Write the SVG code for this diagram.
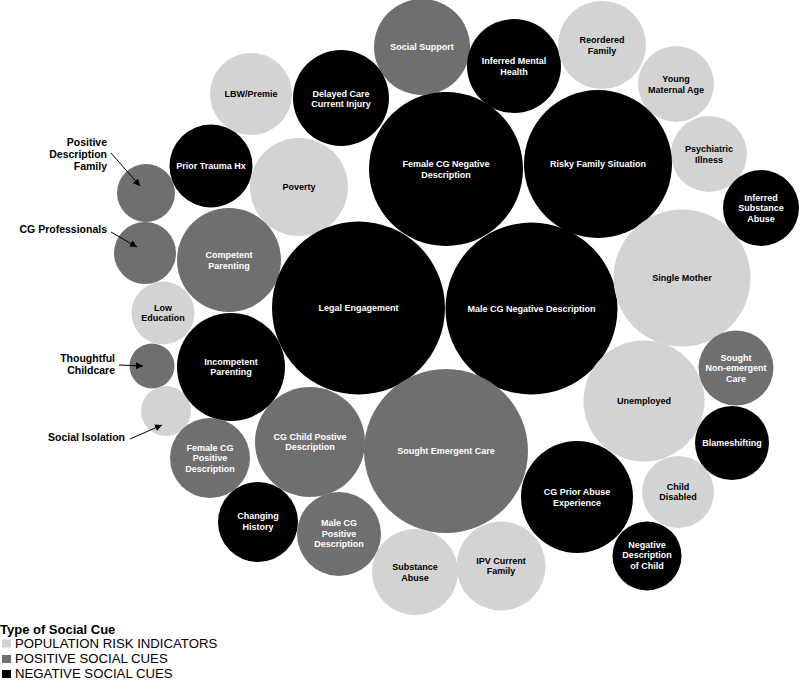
<svg xmlns="http://www.w3.org/2000/svg" width="800" height="680" viewBox="0 0 800 680">
<defs>
<style>
.pop{fill:#d3d3d3}
.pos{fill:#6f6f6f}
.neg{fill:#000000}
text{font-family:"Liberation Sans",Arial,sans-serif}
.lb{font-size:9px;font-weight:bold;text-anchor:middle}
.dk{fill:#000}
.wt{fill:#fff}
.side{font-size:10.5px;font-weight:bold;fill:#000;text-anchor:end}
.leg{font-size:13.2px;fill:#000}
.conn{stroke:#000;stroke-width:1;fill:none;marker-end:url(#ah)}
</style>
<marker id="ah" viewBox="0 0 10 10" refX="10" refY="5" markerWidth="7" markerHeight="7" markerUnits="userSpaceOnUse" orient="auto">
<path d="M0,0 L10,5 L0,10 z" fill="#000"/>
</marker>
</defs>
<rect width="800" height="680" fill="#fff"/>

<g id="social-support"><circle class="pos" cx="422" cy="47" r="48"/><text class="lb wt" x="422" y="50">Social Support</text></g>
<g id="inferred-mental-health"><circle class="neg" cx="514" cy="66" r="47"/><text class="lb wt" x="514" y="64">Inferred Mental</text><text class="lb wt" x="514" y="74.5">Health</text></g>
<g id="reordered-family"><circle class="pop" cx="602" cy="45" r="44"/><text class="lb dk" x="602" y="43">Reordered</text><text class="lb dk" x="602" y="53.5">Family</text></g>
<g id="young-maternal-age"><circle class="pop" cx="676" cy="84" r="38"/><text class="lb dk" x="676" y="82">Young</text><text class="lb dk" x="676" y="92.5">Maternal Age</text></g>
<g id="psychiatric-illness"><circle class="pop" cx="709" cy="154" r="38"/><text class="lb dk" x="709" y="152">Psychiatric</text><text class="lb dk" x="709" y="162.5">Illness</text></g>
<g id="inferred-substance-abuse"><circle class="neg" cx="761" cy="208" r="38"/><text class="lb wt" x="761" y="200.5">Inferred</text><text class="lb wt" x="761" y="211">Substance</text><text class="lb wt" x="761" y="221.5">Abuse</text></g>
<g id="risky-family-situation"><circle class="neg" cx="598" cy="164" r="74"/><text class="lb wt" x="598" y="167">Risky Family Situation</text></g>
<g id="female-cg-negative-description"><circle class="neg" cx="446" cy="169" r="77"/><text class="lb wt" x="446" y="167">Female CG Negative</text><text class="lb wt" x="446" y="177.5">Description</text></g>
<g id="delayed-care-current-injury"><circle class="neg" cx="341" cy="98" r="48"/><text class="lb wt" x="341" y="96.5">Delayed Care</text><text class="lb wt" x="341" y="107">Current Injury</text></g>
<g id="lbw-premie"><circle class="pop" cx="251" cy="94" r="41"/><text class="lb dk" x="251" y="96.5">LBW/Premie</text></g>
<g id="prior-trauma-hx"><circle class="neg" cx="211" cy="166" r="41.5"/><text class="lb wt" x="211" y="169.2">Prior Trauma Hx</text></g>
<g id="poverty"><circle class="pop" cx="299" cy="187" r="49"/><text class="lb dk" x="299" y="190.2">Poverty</text></g>
<g id="positive-description-family"><circle class="pos" cx="146" cy="193" r="29"/></g>
<g id="cg-professionals"><circle class="pos" cx="145" cy="253" r="31"/></g>
<g id="low-education"><circle class="pop" cx="163" cy="313" r="31.5"/><text class="lb dk" x="163" y="310.5">Low</text><text class="lb dk" x="163" y="321">Education</text></g>
<g id="thoughtful-childcare"><circle class="pos" cx="152" cy="366" r="22.5"/></g>
<g id="social-isolation"><circle class="pop" cx="166" cy="411" r="25"/></g>
<g id="competent-parenting"><circle class="pos" cx="229" cy="260" r="52"/><text class="lb wt" x="229" y="258">Competent</text><text class="lb wt" x="229" y="268.5">Parenting</text></g>
<g id="incompetent-parenting"><circle class="neg" cx="231" cy="367" r="54"/><text class="lb wt" x="231" y="364.5">Incompetent</text><text class="lb wt" x="231" y="375">Parenting</text></g>
<g id="legal-engagement"><circle class="neg" cx="358.5" cy="308" r="86.5"/><text class="lb wt" x="358.5" y="311.2">Legal Engagement</text></g>
<g id="male-cg-negative-description"><circle class="neg" cx="531.5" cy="308.5" r="86"/><text class="lb wt" x="531.5" y="311.7">Male CG Negative Description</text></g>
<g id="single-mother"><circle class="pop" cx="682" cy="278" r="68.5"/><text class="lb dk" x="682" y="281">Single Mother</text></g>
<g id="unemployed"><circle class="pop" cx="644" cy="401" r="60.5"/><text class="lb dk" x="644" y="404.2">Unemployed</text></g>
<g id="sought-non-emergent-care"><circle class="pos" cx="736" cy="368" r="37.5"/><text class="lb wt" x="736" y="360.5">Sought</text><text class="lb wt" x="736" y="371">Non-emergent</text><text class="lb wt" x="736" y="381.5">Care</text></g>
<g id="blameshifting"><circle class="neg" cx="732" cy="443" r="37"/><text class="lb wt" x="732" y="445.5">Blameshifting</text></g>
<g id="sought-emergent-care"><circle class="pos" cx="446" cy="451" r="82"/><text class="lb wt" x="446" y="454">Sought Emergent Care</text></g>
<g id="cg-child-postive-description"><circle class="pos" cx="310" cy="442" r="55"/><text class="lb wt" x="310" y="439.5">CG Child Postive</text><text class="lb wt" x="310" y="450">Description</text></g>
<g id="female-cg-positive-description"><circle class="pos" cx="210" cy="458" r="40"/><text class="lb wt" x="210" y="450.5">Female CG</text><text class="lb wt" x="210" y="461">Positive</text><text class="lb wt" x="210" y="471.5">Description</text></g>
<g id="changing-history"><circle class="neg" cx="258" cy="522" r="40"/><text class="lb wt" x="258" y="519">Changing</text><text class="lb wt" x="258" y="529.5">History</text></g>
<g id="male-cg-positive-description"><circle class="pos" cx="339" cy="534" r="42"/><text class="lb wt" x="339" y="526">Male CG</text><text class="lb wt" x="339" y="536.5">Positive</text><text class="lb wt" x="339" y="547">Description</text></g>
<g id="substance-abuse"><circle class="pop" cx="415" cy="572" r="43"/><text class="lb dk" x="415" y="570">Substance</text><text class="lb dk" x="415" y="580.5">Abuse</text></g>
<g id="ipv-current-family"><circle class="pop" cx="501" cy="566" r="44.5"/><text class="lb dk" x="501" y="563.5">IPV Current</text><text class="lb dk" x="501" y="574">Family</text></g>
<g id="cg-prior-abuse-experience"><circle class="neg" cx="577" cy="497" r="56"/><text class="lb wt" x="577" y="495">CG Prior Abuse</text><text class="lb wt" x="577" y="505.5">Experience</text></g>
<g id="child-disabled"><circle class="pop" cx="678" cy="492" r="36"/><text class="lb dk" x="678" y="489.5">Child</text><text class="lb dk" x="678" y="500">Disabled</text></g>
<g id="negative-description-of-child"><circle class="neg" cx="647" cy="556" r="34.5"/><text class="lb wt" x="647" y="547.5">Negative</text><text class="lb wt" x="647" y="558">Description</text><text class="lb wt" x="647" y="568.5">of Child</text></g>

<g id="side-labels">
<text class="side" x="107" y="145.5">Positive</text>
<text class="side" x="107" y="157.5">Description</text>
<text class="side" x="107" y="169.5">Family</text>
<text class="side" x="107" y="233">CG Professionals</text>
<text class="side" x="115" y="362">Thoughtful</text>
<text class="side" x="115" y="374">Childcare</text>
<text class="side" x="125" y="441">Social Isolation</text>
</g>

<g id="connectors">
<line class="conn" x1="111" y1="153" x2="140" y2="186"/>
<line class="conn" x1="111" y1="232" x2="137" y2="247"/>
<line class="conn" x1="119" y1="365" x2="143" y2="366"/>
<line class="conn" x1="130" y1="439" x2="162" y2="425"/>
</g>

<g id="legend">
<text x="0" y="634" style="font-size:13px;font-weight:bold;fill:#000">Type of Social Cue</text>
<rect class="pop" x="2" y="639.5" width="9" height="8"/>
<text class="leg" x="15" y="647.5">POPULATION RISK INDICATORS</text>
<rect class="pos" x="2" y="655" width="9" height="8"/>
<text class="leg" x="15" y="663">POSITIVE SOCIAL CUES</text>
<rect class="neg" x="2" y="670" width="9" height="8"/>
<text class="leg" x="15" y="678">NEGATIVE SOCIAL CUES</text>
</g>
</svg>
